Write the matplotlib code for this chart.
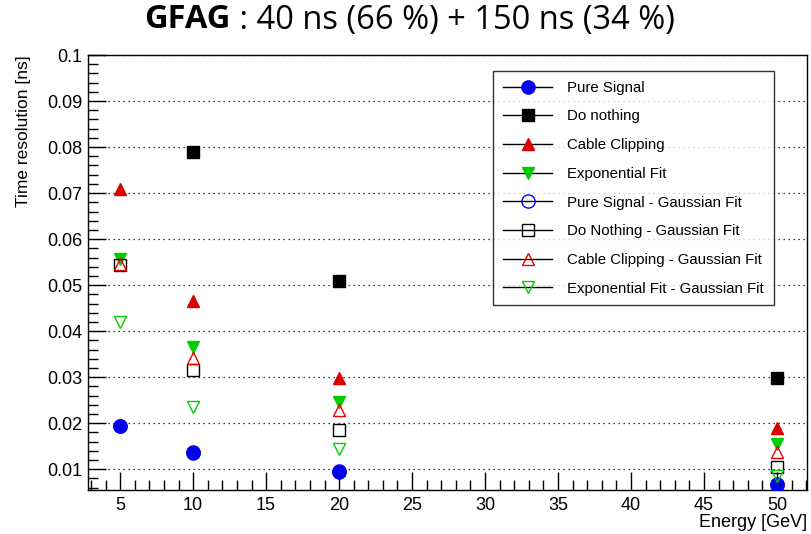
import matplotlib
matplotlib.use("Agg")
import matplotlib.pyplot as plt
from matplotlib.ticker import MultipleLocator

TITLE_BOLD = 'GFAG'
TITLE_REST = ' : 40 ns (66 %) + 150 ns (34 %)'

energy = [5, 10, 20, 50]

pure_signal = [0.0194, 0.0135, 0.0095, 0.0066]
do_nothing = [None, 0.0789, 0.0509, 0.0299]
cable_clipping = [0.0709, 0.0466, 0.0298, 0.0190]
exp_fit = [0.0556, 0.0366, 0.0247, 0.0154]
pure_signal_gaus = [0.0195, 0.0137, 0.0096, 0.0068]
do_nothing_gaus = [0.0543, 0.0316, 0.0185, 0.0106]
cable_clipping_gaus = [0.0546, 0.0341, 0.0228, 0.0137]
exp_fit_gaus = [0.0419, 0.0236, 0.0143, 0.0086]

labels = ['Pure Signal', 'Do nothing', 'Cable Clipping', 'Exponential Fit',
          'Pure Signal - Gaussian Fit', 'Do Nothing - Gaussian Fit',
          'Cable Clipping - Gaussian Fit', 'Exponential Fit - Gaussian Fit']

plt.rcParams['font.family'] = ['Liberation Sans', 'DejaVu Sans']

fig = plt.figure(figsize=(8.11, 5.34), dpi=100)
ax = fig.add_axes([88 / 811, 1 - 490 / 534, (807 - 88) / 811, (490 - 55) / 534])

series = [
    (pure_signal, 'o', '#0000ee', True, 9.5),
    (do_nothing, 's', 'black', True, 8.5),
    (cable_clipping, '^', '#dd0000', True, 9),
    (exp_fit, 'v', '#00cc00', True, 9),
    (pure_signal_gaus, 'o', '#0000ee', False, 9.5),
    (do_nothing_gaus, 's', 'black', False, 8.5),
    (cable_clipping_gaus, '^', '#ee0000', False, 9),
    (exp_fit_gaus, 'v', '#00cc00', False, 9),
]

handles = []
for (vals, m, c, filled, ms), lab in zip(series, labels):
    xs = [e for e, v in zip(energy, vals) if v is not None]
    ys = [v for v in vals if v is not None]
    ax.plot(xs, ys, linestyle='none', marker=m, markersize=ms,
            markerfacecolor=c if filled else 'none', markeredgecolor=c,
            markeredgewidth=1.0, zorder=3)
    h, = ax.plot([], [], color='black', linewidth=1.0, marker=m, markersize=ms,
                 markerfacecolor=c if filled else 'none', markeredgecolor=c,
                 markeredgewidth=1.0)
    handles.append(h)

ax.set_xlim(2.8, 52.05)
ax.set_ylim(0.0055, 0.1)
ax.xaxis.set_major_locator(MultipleLocator(5))
ax.xaxis.set_minor_locator(MultipleLocator(1))
ax.yaxis.set_major_locator(MultipleLocator(0.01))
ax.yaxis.set_minor_locator(MultipleLocator(0.002))
ax.set_yticks([0.01, 0.02, 0.03, 0.04, 0.05, 0.06, 0.07, 0.08, 0.09, 0.1])
ax.set_yticklabels(['0.01', '0.02', '0.03', '0.04', '0.05', '0.06', '0.07',
                    '0.08', '0.09', '0.1'])
ax.set_xticks([5, 10, 15, 20, 25, 30, 35, 40, 45, 50])

ax.tick_params(which='major', direction='in', length=13, width=1.0,
               labelsize=13, top=False, right=False)
ax.tick_params(which='minor', direction='in', length=7, width=1.0,
               top=False, right=False)
ax.tick_params(axis='x', pad=5)
ax.tick_params(axis='y', pad=4)
ax.grid(True, axis='y', which='major', linestyle=(0, (1, 3)),
        color='black', linewidth=0.9)
for s in ax.spines.values():
    s.set_linewidth(1.0)

ax.set_xlabel('Energy [GeV]', fontsize=13, loc='right', labelpad=0)
ax.set_ylabel('Time resolution [ns]', fontsize=12.5, loc='top', labelpad=12)

leg = ax.legend(handles, labels, loc='upper left',
                bbox_to_anchor=((493 - 88) / 719, 1 - (71 - 55) / 435),
                fontsize=10.8, frameon=True, fancybox=False, edgecolor='black',
                borderpad=0.65, labelspacing=0.98, handlelength=3.3,
                handletextpad=1.0, borderaxespad=0)
leg.get_frame().set_linewidth(1.0)

t1 = fig.text(0.5, 1 - 20 / 534, TITLE_BOLD, fontsize=23.5, fontweight='bold',
              family='Open Sans', ha='right', va='center')
fig.canvas.draw()
bb = t1.get_window_extent()
fig.text(0.5, 1 - 20 / 534, TITLE_REST, fontsize=23.5, family='Open Sans',
         ha='left', va='center')
# shift both so the whole title is centred
tw = fig.texts[1].get_window_extent(fig.canvas.get_renderer()).width
shift = (bb.width - tw) / 2 / fig.bbox.width
for t in fig.texts:
    x, y = t.get_position()
    t.set_position((x + shift + 0.005, y))

fig.savefig('out.png', dpi=100)
